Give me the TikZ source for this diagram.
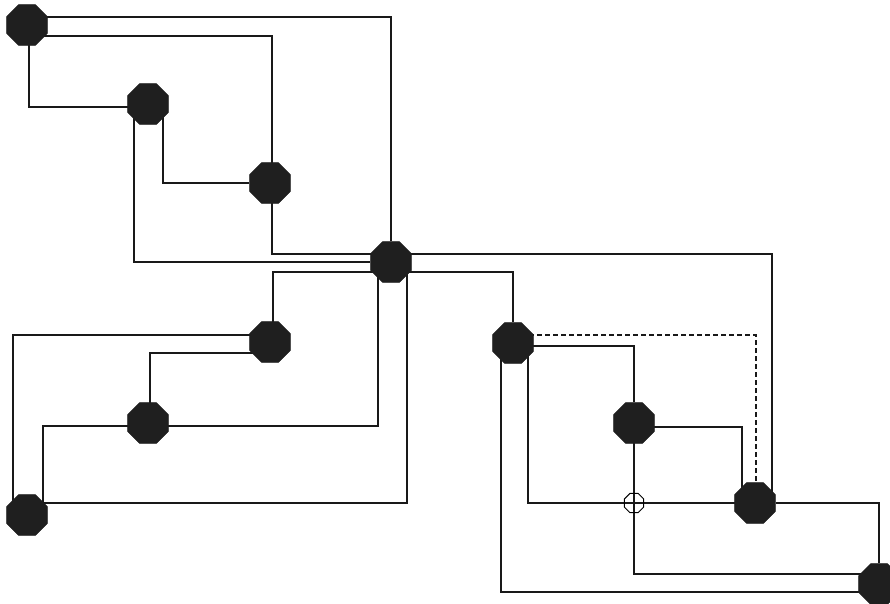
\documentclass[tikz,border=0pt]{standalone}
\usetikzlibrary{shapes.geometric}
\pgfdeclarelayer{bg}
\pgfdeclarelayer{paper}
\pgfsetlayers{paper,bg,main}
\begin{document}
\begin{tikzpicture}[x=1pt,y=-1pt,
  hub/.style={regular polygon,regular polygon sides=8,minimum size=44pt,inner sep=0pt,fill=black!88,draw=black!88},
  cross/.style={regular polygon,regular polygon sides=8,minimum size=21pt,inner sep=0pt,draw=black,line width=1pt},
  wire/.style={draw=black!90,line width=1.1pt},
  dashwire/.style={wire,dash pattern=on 4.5pt off 3.5pt}]
\useasboundingbox (0,0) rectangle (890,603);
\clip (0,0) rectangle (890,603);
\begin{pgfonlayer}{paper}
\fill[white] (0,0) rectangle (890,603);
\end{pgfonlayer}
\node[hub] (A) at (27,25) {};
\node[hub] (B) at (148,104) {};
\node[hub] (C) at (270,183) {};
\node[hub] (D) at (391,262) {};
\node[hub] (E) at (270,342) {};
\node[hub] (F) at (148,423) {};
\node[hub] (G) at (27,515) {};
\node[hub] (H) at (513,343) {};
\node[hub] (I) at (634,423) {};
\node[hub] (J) at (755,503) {};
\node[hub] (K) at (879,584) {};
\node[cross] (X) at (634,503) {};
\begin{pgfonlayer}{bg}
\path[wire] (A |- 0,17) -| (D);
\path[wire] (A |- 0,36) -| (C -| 272,0);
\path[wire] (A -| 29,0) |- (B |- 0,107);
\path[wire] (B -| 163,0) |- (C);
\path[wire] (B -| 134,0) |- (D);
\path[wire] (C -| 272,0) |- (D |- 0,254);
\path[wire] (D |- 0,254) -| (J -| 772,0);
\path[wire] (D |- 0,272) -| (H);
\path[wire] (D |- 0,272) -| (E -| 273,0);
\path[wire] (D -| 378,0) |- (F |- 0,426);
\path[wire] (D -| 407,0) |- (G |- 0,503);
\path[wire] (E |- 0,335) -| (G -| 13,0);
\path[wire] (E |- 0,353) -| (F -| 150,0);
\path[wire] (F |- 0,426) -| (G -| 43,0);
\path[dashwire] (H |- 0,335) -| (J -| 756,0);
\path[wire] (H |- 0,346) -| (I);
\path[wire] (H -| 528,0) |- (X.center) -- (J.center);
\path[wire] (H -| 501,0) |- (K |- 0,592);
\path[wire] (I |- 0,427) -| (J -| 742,0);
\path[wire] (I.center) -- (X.center) |- (K |- 0,574);
\path[wire] (J) -| (K);
\end{pgfonlayer}
\end{tikzpicture}
\end{document}
